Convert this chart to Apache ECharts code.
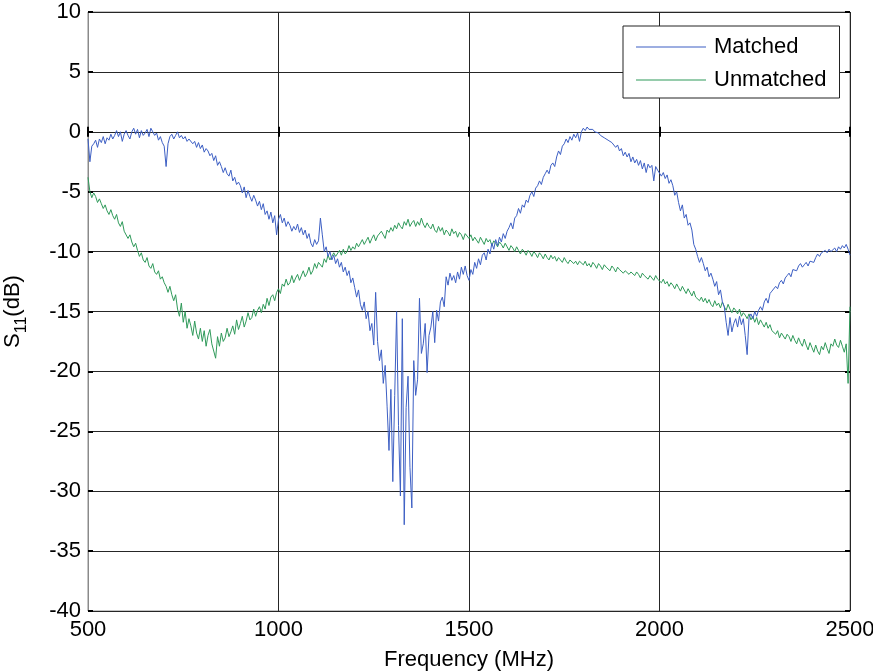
<!DOCTYPE html>
<html>
<head>
<meta charset="utf-8">
<script src="https://cdn.jsdelivr.net/npm/echarts@6/dist/echarts.min.js"></script>
<style>
html, body { margin: 0; padding: 0; background: #fff; }
#chart { width: 873px; height: 672px; }
</style>
</head>
<body>
<div id="chart"></div>
<script>
// frequency sweep: 500 .. 2500 MHz, one sample every 5 MHz
const freqStart = 500;
const freqStep = 5;

const xTicks = [500, 1000, 1500, 2000, 2500];
const yTicks = [10, 5, 0, -5, -10, -15, -20, -25, -30, -35, -40];

// S11 matched (dB), one row = 100 MHz
const matched = [
  -0.6,-2.5,-1.2,-1.0,-0.7,-1.3,-0.6,-0.9,-0.4,-1.0,-0.5,-0.7,-0.2,-0.6,-0.3,0.1,-0.4,0.0,-0.8,-0.2,
  0.1,-0.3,-0.6,0.0,0.3,-0.2,0.2,-0.5,0.1,-0.3,-0.1,0.2,-0.4,0.3,0.0,-0.3,-0.1,-0.7,-0.4,-0.9,
  -1.2,-2.9,-1.0,-0.4,-0.2,-0.6,-0.3,0.0,-0.5,-0.3,-0.6,-0.4,-0.8,-0.6,-0.5,-1.0,-0.8,-1.3,-0.9,-1.4,
  -1.1,-1.7,-1.4,-1.6,-2.0,-1.8,-2.4,-2.0,-2.8,-2.5,-2.9,-3.4,-3.0,-3.5,-3.7,-3.2,-4.1,-3.8,-4.4,-4.2,
  -4.5,-5.1,-4.6,-5.5,-4.9,-5.4,-5.8,-5.3,-5.7,-6.2,-5.8,-6.5,-6.0,-6.9,-6.6,-7.3,-6.7,-7.6,-7.0,-8.6,
  -7.3,-6.9,-7.6,-7.2,-7.9,-7.5,-7.8,-8.3,-7.9,-8.2,-7.7,-8.4,-8.0,-8.6,-8.2,-8.9,-8.5,-9.3,-9.6,-9.0,
  -9.4,-9.1,-7.2,-8.6,-10.0,-9.6,-10.4,-10.0,-10.7,-10.3,-11.0,-10.6,-11.3,-10.9,-11.7,-11.3,-12.0,-11.6,-12.6,-12.2,
  -13.0,-13.8,-13.2,-14.4,-14.9,-14.2,-15.6,-15.0,-16.6,-16.0,-17.8,-13.4,-17.5,-19.1,-18.2,-21.0,-19.5,-22.9,-26.6,-21.5,
  -29.2,-22.0,-15.0,-24.5,-30.4,-15.6,-32.8,-23.0,-20.4,-28.0,-31.4,-19.1,-22.0,-20.7,-13.9,-18.5,-17.7,-16.0,-20.1,-17.0,
  -16.3,-15.0,-17.6,-14.9,-15.8,-14.2,-13.8,-14.6,-12.1,-12.8,-11.8,-12.4,-12.0,-12.6,-11.7,-12.3,-11.3,-11.9,-11.2,-12.0,
  -12.4,-11.5,-11.9,-10.9,-11.4,-10.6,-11.1,-10.3,-10.1,-10.7,-9.8,-10.2,-9.3,-9.8,-9.0,-9.5,-8.8,-9.2,-8.5,-8.9,
  -8.3,-8.0,-7.6,-8.1,-7.2,-7.0,-6.4,-6.8,-6.1,-6.3,-5.7,-5.9,-5.3,-5.0,-5.4,-4.7,-4.5,-4.1,-4.4,-3.8,
  -3.5,-3.2,-3.5,-2.8,-2.6,-2.9,-2.1,-1.6,-1.9,-1.2,-1.0,-0.6,-0.9,-0.4,-0.7,-0.2,-0.5,-0.1,-0.8,0.0,
  0.3,0.1,0.4,0.2,0.1,0.2,0.0,0.1,-0.1,-0.3,-0.2,-0.5,-0.4,-0.7,-0.6,-0.9,-1.0,-1.3,-1.1,-1.6,
  -1.4,-2.0,-1.7,-2.1,-1.8,-2.5,-2.1,-2.6,-2.3,-2.8,-2.4,-3.1,-2.6,-3.4,-2.7,-3.0,-2.8,-4.1,-2.9,-3.2,
  -3.3,-3.7,-3.4,-3.9,-3.6,-4.3,-4.0,-4.5,-5.3,-5.0,-5.9,-6.6,-6.1,-7.2,-6.9,-7.8,-7.6,-8.2,-9.4,-9.8,
  -10.4,-10.9,-10.5,-11.0,-11.6,-11.3,-12.1,-11.8,-12.3,-12.9,-12.5,-13.6,-13.2,-14.2,-14.6,-15.9,-17.0,-15.5,-16.7,-16.0,
  -15.6,-16.3,-15.4,-16.1,-15.6,-17.0,-18.6,-15.5,-15.2,-15.6,-15.0,-15.4,-14.9,-14.6,-14.9,-14.2,-13.9,-14.3,-13.5,-13.3,
  -13.2,-12.9,-13.1,-12.6,-12.4,-12.7,-12.2,-12.0,-11.8,-12.1,-11.5,-11.4,-11.6,-11.2,-11.0,-11.3,-11.1,-10.9,-11.2,-10.8,
  -10.7,-10.9,-10.5,-10.2,-10.4,-10.1,-10.2,-9.9,-10.1,-9.8,-10.0,-9.9,-9.7,-10.0,-9.6,-9.8,-9.5,-9.7,-9.4,-9.8,
  -10.3
];

// S11 unmatched (dB), one row = 100 MHz
const unmatched = [
  -3.8,-5.0,-5.5,-5.1,-5.4,-5.9,-5.6,-6.0,-6.4,-6.1,-6.6,-6.9,-6.5,-7.0,-7.3,-6.9,-7.6,-7.9,-7.5,-8.3,
  -8.4,-8.9,-8.6,-9.2,-9.6,-9.3,-9.9,-10.4,-10.1,-10.7,-10.9,-10.5,-11.2,-11.4,-11.0,-11.7,-11.9,-11.6,-12.3,-12.1,
  -12.6,-12.9,-13.4,-12.9,-13.6,-14.1,-13.6,-14.8,-15.4,-14.3,-15.9,-15.0,-16.4,-15.6,-16.2,-17.0,-15.8,-16.8,-17.3,-16.4,
  -17.5,-16.6,-17.9,-17.0,-16.5,-17.7,-18.3,-18.9,-17.1,-17.9,-16.8,-17.5,-17.2,-16.4,-17.1,-16.7,-16.2,-16.9,-15.7,-16.5,
  -16.0,-15.4,-16.3,-15.8,-15.1,-15.7,-15.5,-14.8,-15.4,-14.9,-14.6,-15.1,-14.4,-14.8,-13.9,-14.5,-13.8,-13.6,-14.1,-13.4,
  -13.1,-13.5,-12.7,-12.9,-12.3,-12.8,-12.6,-12.0,-12.6,-12.2,-11.9,-12.4,-12.3,-11.6,-12.1,-11.8,-11.3,-11.9,-11.6,-11.0,
  -11.4,-10.9,-10.8,-11.3,-10.6,-10.9,-10.3,-10.7,-10.8,-10.1,-10.4,-10.5,-9.9,-10.3,-9.8,-10.2,-10.0,-9.5,-9.9,-9.6,
  -9.8,-9.3,-9.6,-9.5,-9.0,-9.4,-9.1,-8.8,-9.3,-8.9,-8.6,-9.1,-8.7,-8.8,-8.3,-8.6,-8.9,-8.2,-8.4,-8.0,
  -8.3,-7.8,-8.1,-7.6,-7.9,-8.1,-7.5,-7.8,-7.3,-7.9,-7.6,-7.4,-7.9,-7.5,-7.8,-7.2,-7.7,-8.0,-7.6,-7.9,
  -8.1,-7.7,-8.2,-8.4,-7.9,-8.3,-8.0,-8.6,-8.2,-8.4,-8.7,-8.1,-8.5,-8.3,-8.8,-8.4,-8.6,-9.0,-8.5,-8.7,
  -8.9,-8.6,-9.1,-8.8,-8.9,-9.3,-8.8,-9.1,-9.4,-8.9,-9.2,-9.0,-9.5,-9.1,-9.3,-9.6,-9.2,-9.4,-9.7,-9.3,
  -9.6,-9.9,-9.5,-9.7,-10.0,-9.6,-9.9,-10.2,-9.8,-10.0,-10.3,-9.9,-10.1,-10.4,-10.0,-10.2,-10.5,-10.1,-10.3,-10.6,
  -10.2,-10.5,-10.7,-10.3,-10.6,-10.4,-10.8,-10.5,-10.7,-10.9,-10.5,-10.8,-11.0,-10.7,-10.6,-11.0,-10.8,-11.1,-10.8,-10.9,
  -11.1,-10.8,-11.2,-11.0,-11.3,-10.9,-11.1,-11.4,-11.0,-11.2,-11.5,-11.1,-11.3,-11.2,-11.6,-11.2,-11.4,-11.7,-11.3,-11.5,
  -11.4,-11.8,-11.6,-11.5,-11.9,-11.7,-11.6,-12.0,-11.7,-11.9,-12.2,-11.8,-12.0,-11.9,-12.3,-12.0,-12.2,-12.4,-12.0,-12.3,
  -12.4,-12.6,-12.3,-12.7,-12.5,-12.9,-12.6,-12.8,-13.1,-12.7,-13.0,-13.3,-12.9,-13.2,-13.5,-13.1,-13.4,-13.7,-13.3,-13.8,
  -13.7,-14.1,-13.8,-14.2,-13.9,-14.3,-14.0,-14.4,-14.6,-14.1,-14.5,-14.3,-14.7,-14.2,-14.6,-14.9,-14.4,-14.8,-15.1,-14.7,
  -14.9,-15.2,-14.8,-15.4,-15.1,-15.3,-15.6,-15.2,-15.7,-15.4,-15.9,-15.5,-16.1,-15.7,-16.0,-16.3,-15.9,-16.4,-16.1,-16.6,
  -16.5,-16.9,-16.6,-17.2,-16.8,-16.7,-17.3,-16.9,-17.1,-17.5,-17.0,-17.4,-17.7,-17.2,-17.6,-17.9,-17.3,-17.8,-18.2,-17.6,
  -18.0,-18.4,-17.8,-18.3,-18.6,-17.9,-18.2,-17.6,-18.1,-18.5,-17.7,-17.9,-17.3,-17.8,-18.0,-17.4,-17.9,-18.4,-17.7,-21.0,
  -14.6
];

const seriesNames = ['Matched', 'Unmatched'];
const seriesColors = ['#3d5fc4', '#2f9a5a'];

function toPairs(values) {
    return values.map((v, i) => [freqStart + i * freqStep, v]);
}

const font = 'Liberation Sans, Arial, sans-serif';
const gridColor = '#262626';
const boxColor = '#8a8a8a';
const tickStyle = { color: '#000', width: 2 };

const chart = echarts.init(document.getElementById('chart'), null, { renderer: 'canvas' });

const option = {
    animation: false,
    backgroundColor: '#fff',
    grid: {
        left: 88, right: 23, top: 12, bottom: 61,
        containLabel: false,
        outerBoundsMode: 'none',
        show: true, borderColor: boxColor, borderWidth: 1
    },
    legend: {
        left: 623, top: 26,
        orient: 'vertical',
        data: seriesNames,
        icon: 'rect',
        itemWidth: 70, itemHeight: 1,
        itemGap: 11,
        padding: [10, 13, 7, 13],
        borderColor: '#222', borderWidth: 1,
        backgroundColor: '#fff',
        textStyle: { fontFamily: font, fontSize: 22, color: '#000', padding: [0, 0, 0, 3] }
    },
    xAxis: [{
        type: 'value',
        min: 500, max: 2500, interval: 500,
        name: 'Frequency (MHz)',
        nameLocation: 'middle',
        nameGap: 38,
        nameTextStyle: { fontFamily: font, fontSize: 22, color: '#000' },
        axisLine: { show: true, lineStyle: { color: gridColor } },
        axisTick: { show: true, inside: true, length: 5, lineStyle: tickStyle },
        axisLabel: {
            fontFamily: font, fontSize: 22, color: '#000', margin: 8,
            formatter: v => xTicks.includes(v) ? String(v) : ''
        },
        splitLine: { show: true, lineStyle: { color: gridColor, width: 1 } }
    }, {
        type: 'value', position: 'top',
        min: 500, max: 2500, interval: 500,
        axisLine: { show: false },
        axisTick: { show: true, inside: true, length: 5, lineStyle: tickStyle },
        axisLabel: { show: false },
        splitLine: { show: false }
    }],
    yAxis: [{
        type: 'value',
        min: -40, max: 10, interval: 5,
        name: '{a|S}{b|11}{a|(dB)}',
        nameLocation: 'middle',
        nameRotate: 90,
        nameGap: 58,
        nameTextStyle: {
            fontFamily: font, color: '#000',
            rich: {
                a: { fontFamily: font, fontSize: 22, lineHeight: 34, color: '#000' },
                b: { fontFamily: font, fontSize: 16, lineHeight: 16, verticalAlign: 'bottom', color: '#000' }
            }
        },
        axisLine: { show: true, lineStyle: { color: boxColor } },
        axisTick: { show: true, inside: true, length: 5, lineStyle: tickStyle },
        axisLabel: {
            fontFamily: font, fontSize: 22, color: '#000', margin: 7,
            formatter: v => yTicks.includes(v) ? String(v) : ''
        },
        splitLine: { show: true, lineStyle: { color: gridColor, width: 1 } }
    }, {
        type: 'value', position: 'right',
        min: -40, max: 10, interval: 5,
        axisLine: { show: false },
        axisTick: { show: true, inside: true, length: 5, lineStyle: tickStyle },
        axisLabel: { show: false },
        splitLine: { show: false }
    }],
    series: [{
        name: seriesNames[0],
        type: 'line',
        data: toPairs(matched),
        showSymbol: false,
        symbol: 'none',
        color: seriesColors[0],
        lineStyle: { width: 1, color: seriesColors[0] },
        z: 3
    }, {
        name: seriesNames[1],
        type: 'line',
        data: toPairs(unmatched),
        showSymbol: false,
        symbol: 'none',
        color: seriesColors[1],
        lineStyle: { width: 1, color: seriesColors[1] },
        z: 2
    }]
};

chart.setOption(option);
</script>
</body>
</html>
